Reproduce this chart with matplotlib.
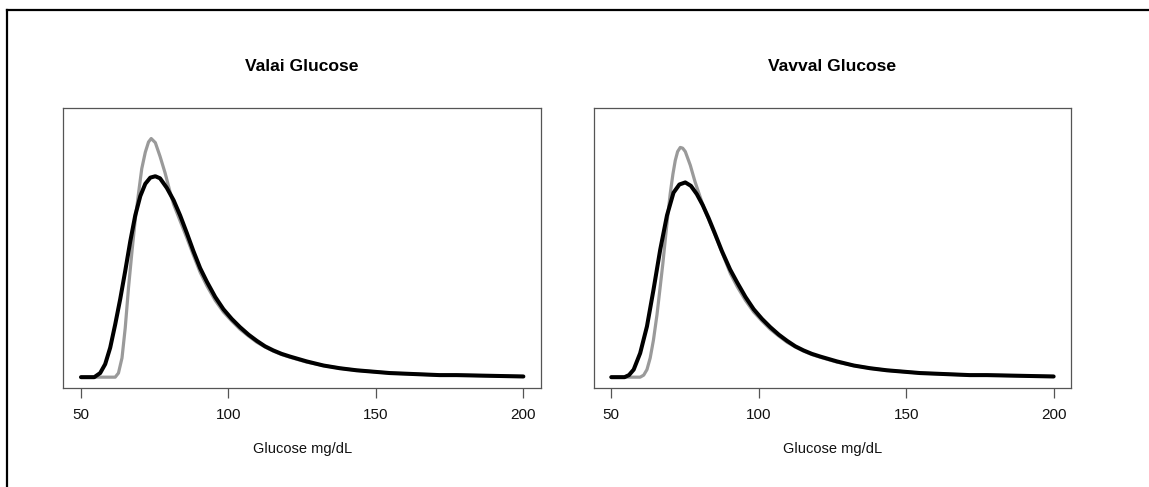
import matplotlib
matplotlib.use("Agg")
import matplotlib.pyplot as plt
from matplotlib.lines import Line2D

plt.rcParams['font.family'] = ['Liberation Sans', 'DejaVu Sans']

# valores (densidad aproximada)
titles = ["Valai Glucose", "Vavval Glucose"]
xlabel = "Glucose mg/dL"
xticks = [50, 100, 150, 200]

valai_grey_x = [50, 61.6, 62.7, 63.9, 65.0, 66.1, 67.3, 68.4, 69.5, 70.6, 71.8, 72.9,
                73.8, 75.2, 76.8, 78.5, 80.2, 81.4, 83.6, 85.9, 88.1, 90.4, 92.7,
                95.5, 98.3, 101.1, 103.9, 106.8, 109.6, 112.4, 115.2, 118.0, 120.9,
                126.5, 132.2, 137.8, 143.5, 149.1, 154.7, 160.4, 166, 171.6, 177.3,
                188.6, 200]
valai_grey_y = [0.0, 0.0, 0.0006, 0.0028, 0.0072, 0.0130, 0.0184, 0.0230, 0.0268,
                0.0304, 0.0328, 0.0343, 0.0348, 0.0342, 0.0322, 0.0298, 0.0270,
                0.0252, 0.0228, 0.0203, 0.0178, 0.0153, 0.0133, 0.0112, 0.0095,
                0.0082, 0.0070, 0.0060, 0.0051, 0.0044, 0.0038, 0.0033, 0.0029,
                0.0022, 0.0017, 0.0013, 0.0010, 0.0008, 0.0006, 0.0005, 0.0004,
                0.0003, 0.0003, 0.0002, 0.0001]

valai_black_x = [50, 54.5, 56.5, 58.2, 59.9, 61.6, 63.3, 65.0, 66.7, 68.4, 70.1, 71.8,
                 73.5, 75.2, 76.8, 79.1, 81.4, 83.6, 85.9, 88.1, 90.4, 92.7, 95.5,
                 98.3, 101.1, 103.9, 106.8, 109.6, 112.4, 115.2, 118.0, 120.9, 126.5,
                 132.2, 137.8, 143.5, 149.1, 154.7, 160.4, 166, 171.6, 177.3, 188.6,
                 200]
valai_black_y = [0.0, 0.0, 0.0006, 0.0019, 0.0043, 0.0077, 0.0114, 0.0155, 0.0198,
                 0.0236, 0.0264, 0.0282, 0.0291, 0.0293, 0.0290, 0.0276, 0.0258,
                 0.0236, 0.0210, 0.0184, 0.0159, 0.0139, 0.0117, 0.0099, 0.0085,
                 0.0073, 0.0062, 0.0053, 0.0045, 0.0039, 0.0034, 0.0030, 0.0023,
                 0.0017, 0.0013, 0.0010, 0.0008, 0.0006, 0.0005, 0.0004, 0.0003,
                 0.0003, 0.0002, 0.0001]

vavval_grey_x = [50, 59.8, 61.0, 62.1, 63.2, 64.3, 65.5, 66.6, 67.5, 68.3, 69.2, 70.0,
                 70.9, 71.7, 72.5, 73.4, 74.2, 75.1, 76.8, 78.4, 80.2, 81.4, 83.6,
                 85.9, 88.1, 90.4, 92.7, 95.5, 98.3, 101.1, 103.9, 106.8, 109.6,
                 112.4, 115.2, 118.0, 120.9, 126.5, 132.2, 137.8, 143.5, 149.1,
                 154.7, 160.4, 166, 171.6, 177.3, 188.6, 200]
vavval_grey_y = [0.0, 0.0, 0.0003, 0.0011, 0.0028, 0.0054, 0.0091, 0.0132, 0.0166,
                 0.0200, 0.0237, 0.0268, 0.0296, 0.0316, 0.0329, 0.0335, 0.0334,
                 0.0329, 0.0309, 0.0285, 0.0262, 0.0247, 0.0224, 0.0200, 0.0176,
                 0.0151, 0.0132, 0.0112, 0.0095, 0.0082, 0.0070, 0.0060, 0.0051,
                 0.0044, 0.0038, 0.0033, 0.0029, 0.0022, 0.0017, 0.0013, 0.0010,
                 0.0008, 0.0006, 0.0005, 0.0004, 0.0003, 0.0003, 0.0002, 0.0001]

vavval_black_x = [50, 54.5, 56.0, 57.6, 59.8, 62.1, 64.3, 66.6, 68.9, 71.1, 73.1, 75.1,
                  77.0, 79.0, 81.0, 83.0, 85.0, 87.5, 90.3, 92.7, 95.5, 98.3, 101.1,
                  103.9, 106.8, 109.6, 112.4, 115.2, 118.0, 120.9, 126.5, 132.2,
                  137.8, 143.5, 149.1, 154.7, 160.4, 166, 171.6, 177.3, 188.6, 200]
vavval_black_y = [0.0, 0.0, 0.0003, 0.0011, 0.0035, 0.0074, 0.0127, 0.0186, 0.0236,
                  0.0269, 0.0281, 0.0284, 0.0279, 0.0267, 0.0251, 0.0232, 0.0211,
                  0.0184, 0.0157, 0.0138, 0.0117, 0.0099, 0.0085, 0.0073, 0.0062,
                  0.0053, 0.0045, 0.0039, 0.0034, 0.0030, 0.0023, 0.0017, 0.0013,
                  0.0010, 0.0008, 0.0006, 0.0005, 0.0004, 0.0003, 0.0003, 0.0002,
                  0.0001]

ymax = 0.0377   # limite superior usado por la grafica original

grey = "#9a9a9a"
box_col = "#555555"

fig = plt.figure(figsize=(11.49, 4.87), dpi=100)
ax_pos = [[0.0551, 0.2043, 0.4158, 0.5733],
          [0.5166, 0.2043, 0.4158, 0.5733]]

series = [(valai_grey_x, valai_grey_y, valai_black_x, valai_black_y),
          (vavval_grey_x, vavval_grey_y, vavval_black_x, vavval_black_y)]

for pos, title, (gx, gy, bx, by) in zip(ax_pos, titles, series):
    ax = fig.add_axes(pos)
    ax.plot(gx, gy, color=grey, lw=2.3, solid_capstyle='round', solid_joinstyle='round')
    ax.plot(bx, by, color="black", lw=2.9, solid_capstyle='round', solid_joinstyle='round')
    ax.set_xlim(44, 206)
    ax.set_ylim(-0.04 * ymax, 1.04 * ymax)
    ax.set_xticks(xticks)
    ax.set_xticklabels([str(t) for t in xticks])
    ax.set_yticks([])
    for s in ax.spines.values():
        s.set_color(box_col)
        s.set_linewidth(0.9)
    ax.tick_params(axis='x', direction='out', length=7, width=0.9, color=box_col,
                   labelsize=11, pad=8, labelcolor="#111111")
    ax.set_xlabel(xlabel, fontsize=10.5, labelpad=14, color="#111111")
    ax.set_title(title, fontsize=12.6, fontweight='bold', pad=27)

# marco parcial de la figura (arriba e izquierda)
fig.add_artist(Line2D([0.0065, 1.0], [0.9795, 0.9795], color="black", lw=1.6,
                      transform=fig.transFigure))
fig.add_artist(Line2D([0.0065, 0.0065], [0.0, 0.9795], color="black", lw=1.6,
                      transform=fig.transFigure))

fig.savefig("out.png", dpi=100, facecolor="white")
